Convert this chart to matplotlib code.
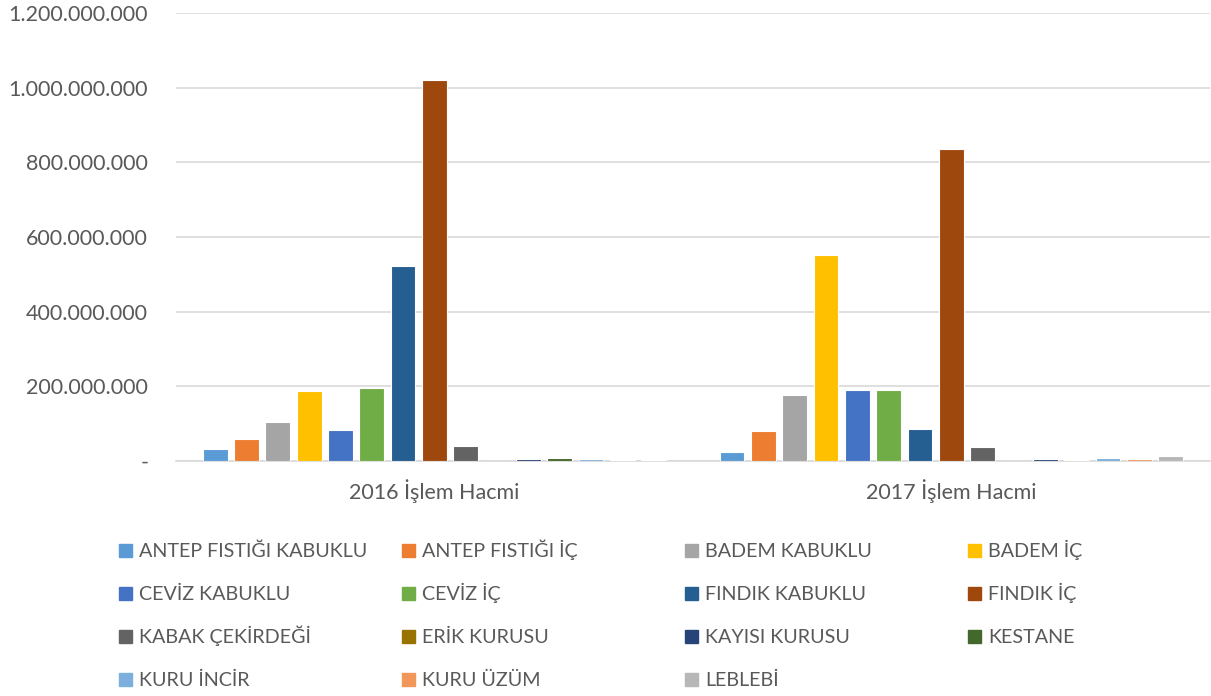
import matplotlib
matplotlib.use("Agg")
import matplotlib.pyplot as plt
import numpy as np
from matplotlib.patches import Rectangle
from matplotlib.ticker import FuncFormatter

plt.rcParams["font.family"] = ["Lato", "DejaVu Sans"]

# Kuru meyve işlem hacimleri (2016 / 2017)
categories = ["2016 İşlem Hacmi", "2017 İşlem Hacmi"]
products = ["ANTEP FISTIĞI KABUKLU", "ANTEP FISTIĞI İÇ", "BADEM KABUKLU", "BADEM İÇ",
            "CEVİZ KABUKLU", "CEVİZ İÇ", "FINDIK KABUKLU", "FINDIK İÇ",
            "KABAK ÇEKİRDEĞİ", "ERİK KURUSU", "KAYISI KURUSU", "KESTANE",
            "KURU İNCİR", "KURU ÜZÜM", "LEBLEBİ"]
hacim_2016 = [32e6, 58e6, 105e6, 187e6, 83e6, 196e6, 522e6, 1020e6,
              39e6, 1e6, 6e6, 8e6, 4.5e6, 2e6, 2e6]
hacim_2017 = [25e6, 80e6, 178e6, 552e6, 190e6, 190e6, 87e6, 836e6,
              37e6, 0, 5e6, 3e6, 8e6, 5e6, 13e6]
colors = ["#5B9BD5", "#ED7D31", "#A5A5A5", "#FFC000", "#4472C4", "#70AD47",
          "#255E91", "#9E480E", "#636363", "#997300", "#264478", "#43682B",
          "#7CAFDD", "#F1975A", "#B7B7B7"]

text_col = "#595959"
fig = plt.figure(figsize=(12.11, 6.96), dpi=100)
ax = fig.add_axes([0.1453, 0.3376, 0.8537, 0.6437])

x = np.arange(len(categories))
step = 0.0606
width = 0.048
for i, name in enumerate(products):
    vals = [hacim_2016[i], hacim_2017[i]]
    off = (i - (len(products) - 1) / 2) * step
    ax.bar(x + off, vals, width, color=colors[i], edgecolor="white",
           linewidth=0.8, zorder=3)

ax.set_xlim(-0.5, 1.5)
ax.set_ylim(0, 1.2e9)
ax.set_yticks(np.arange(0, 1.2e9 + 1, 2e8))
ax.yaxis.set_major_formatter(FuncFormatter(
    lambda v, p: "-" if v == 0 else f"{int(v):,}".replace(",", ".")))
ax.set_xticks(x)
ax.set_xticklabels(categories)
ax.tick_params(axis="both", length=0, colors=text_col, labelsize=15.5)
ax.tick_params(axis="y", pad=20)
ax.tick_params(axis="x", pad=13)
ax.grid(axis="y", color="#D9D9D9", linewidth=1.2, zorder=0)
for s in ["top", "right", "left"]:
    ax.spines[s].set_visible(False)
ax.spines["bottom"].set_color("#D9D9D9")
ax.spines["bottom"].set_linewidth(1.2)

# legend drawn row by row, 4 columns
col_x = [119, 402, 685, 968]
row_y = [550, 593, 636, 679]
W, H = 1211, 696
for i, name in enumerate(products):
    cx = col_x[i % 4]
    cy = row_y[i // 4]
    fig.add_artist(Rectangle((cx / W, (H - cy - 6.5) / H), 13 / W, 13 / H,
                             transform=fig.transFigure, color=colors[i]))
    fig.text((cx + 20) / W, (H - cy - 7) / H, name, fontsize=14.2, color=text_col,
             va="baseline", ha="left")

fig.savefig("out.png", dpi=100)
